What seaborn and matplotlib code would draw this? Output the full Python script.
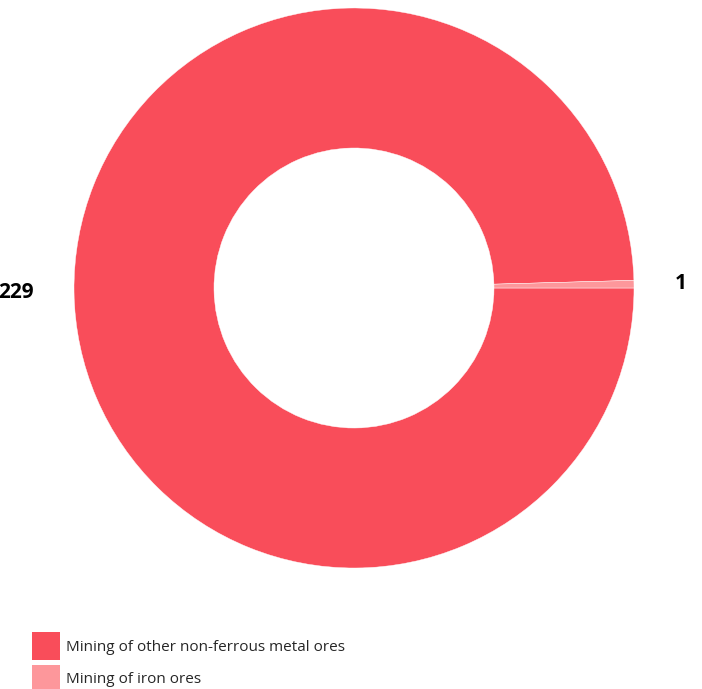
import matplotlib.pyplot as plt
import seaborn as sns
from matplotlib.patches import Patch

# data
categories = ['Mining of other non-ferrous metal ores', 'Mining of iron ores']
values = [229, 1]
colors = ['#F94D5A', '#FD979B']

sns.set_theme(style='white')
plt.rcParams['font.family'] = ['Open Sans', 'DejaVu Sans']

fig = plt.figure(figsize=(7.02, 6.89), dpi=100)
ax = fig.add_axes([74 / 702, 121 / 689, 560 / 702, 560 / 689])

wedges, texts = ax.pie(values, labels=[str(v) for v in values], colors=colors,
                       startangle=0, counterclock=False, labeldistance=1.145,
                       wedgeprops=dict(width=0.5, edgecolor='white', linewidth=0.3),
                       textprops=dict(fontsize=15, fontweight='bold', color='black'))
ax.set_xlim(-1, 1)
ax.set_ylim(-1, 1)
ax.set_aspect('equal')
ax.axis('off')

handles = [Patch(facecolor=c, edgecolor='none') for c in colors]
fig.legend(handles, categories, loc='upper left',
           bbox_to_anchor=(32 / 702, 1 - 632 / 689), frameon=False,
           fontsize=11, handlelength=1.85, handleheight=2.44,
           handletextpad=0.4, labelspacing=0.3, borderpad=0, borderaxespad=0)

fig.savefig('out.png', dpi=100)
